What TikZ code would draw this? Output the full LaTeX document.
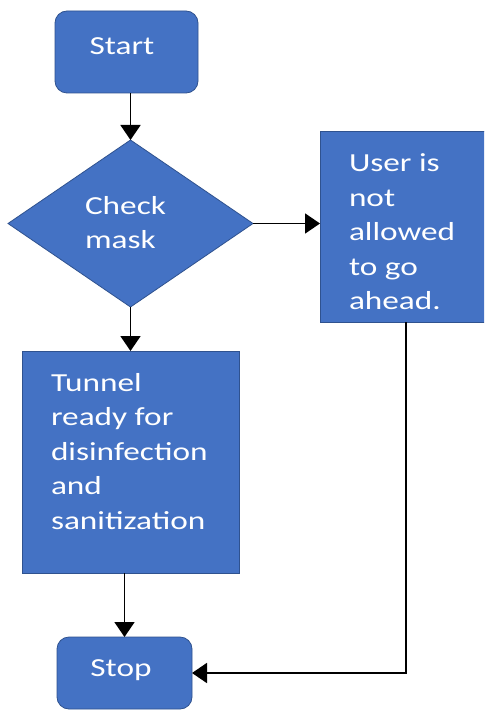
\documentclass[tikz,border=0pt]{standalone}
\usepackage{fontspec}
\setmainfont[FakeStretch=1.28]{Carlito}
\usetikzlibrary{shapes.geometric,arrows.meta}
\definecolor{boxfill}{HTML}{4472C4}
\definecolor{boxline}{HTML}{2F528F}
\begin{document}
\begin{tikzpicture}[x=1pt,y=-1pt,
  every node/.style={inner sep=0pt,outer sep=0pt},
  shapebox/.style={fill=boxfill,draw=boxline,line width=0.8pt},
  label/.style={text=white,font=\fontsize{26}{34.5}\selectfont,align=left},
  flow/.style={draw=black,line width=1.8pt,-{Triangle[length=15pt,width=20pt]}}]
\clip (0,0) rectangle (484,711);
\fill[white] (0,0) rectangle (484,711);
% terminals
\node[shapebox,rounded corners=12pt,minimum width=143pt,minimum height=82pt] (start) at (126.5,52) {};
\node[label] at (122,46) {Start};
\node[shapebox,rounded corners=12pt,minimum width=135pt,minimum height=72pt] (stop) at (124.5,673) {};
\node[label] at (121,670) {Stop};
% decision
\node[shapebox,diamond,minimum width=245pt,minimum height=167pt] (check) at (130.5,223.5) {};
\node[label,anchor=north west] at (85,196) {Check\\mask};
% process boxes
\node[shapebox,minimum width=217pt,minimum height=222pt] (tunnel) at (130.5,462) {};
\node[label,anchor=north west] at (51,373) {Tunnel\\ready for\\disinfection\\and\\sanitization};
\node[shapebox,minimum width=172pt,minimum height=191pt] (deny) at (406,226.5) {};
\node[label,anchor=north west] at (349,154) {User is\\not\\allowed\\to go\\ahead.};
% connectors
\draw[flow] (start.south -| check.north) -- (check.north);
\draw[flow] (check.east) -- (check.east -| deny.west);
\draw[flow] (check.south -| tunnel.north) -- (tunnel.north);
\draw[flow] (tunnel.south -| stop.north) -- (stop.north);
\coordinate (bend) at (deny.south |- stop.east);
\draw[flow] (deny.south) -- (bend) -- (stop.east);
\end{tikzpicture}
\end{document}
